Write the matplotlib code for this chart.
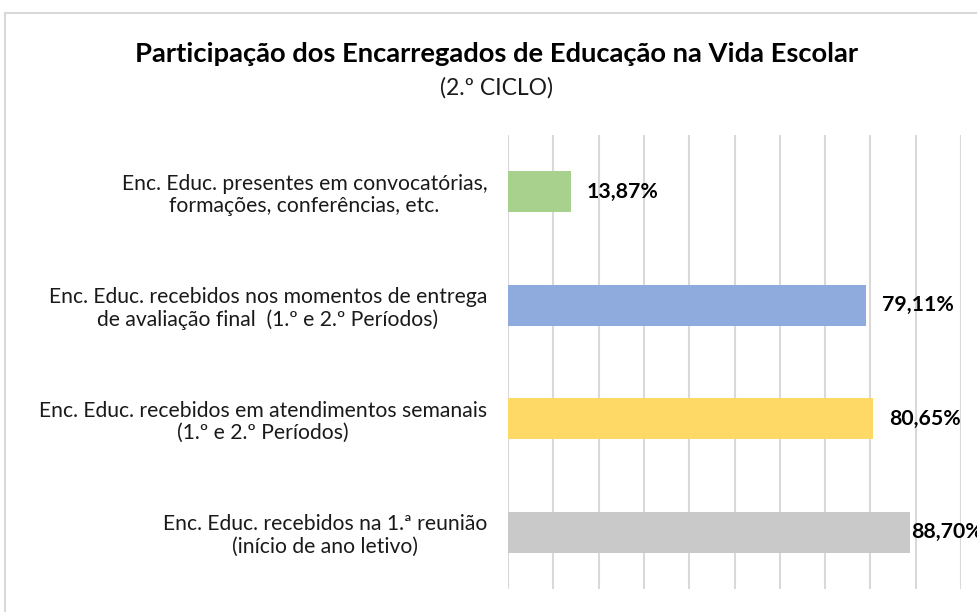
import matplotlib

matplotlib.use("Agg")
import matplotlib.pyplot as plt
from matplotlib.lines import Line2D

plt.rcParams["font.family"] = ["Lato", "DejaVu Sans"]

CATEGORIAS = [
    "Enc. Educ. presentes em convocatórias,\nformações, conferências, etc.",
    "Enc. Educ. recebidos nos momentos de entrega\nde avaliação final  (1.º e 2.º Períodos)",
    "Enc. Educ. recebidos em atendimentos semanais\n(1.º e 2.º Períodos)",
    "Enc. Educ. recebidos na 1.ª reunião\n(início de ano letivo)",
]
VALORES = [13.87, 79.11, 80.65, 88.70]
ROTULOS = ["13,87%", "79,11%", "80,65%", "88,70%"]
CORES = ["#A9D18E", "#8FAADC", "#FFD966", "#C9C9C9"]
# deslocamento do rótulo em px (o último fica colado à barra, como no Excel)
DESLOC = [16, 16, 16, 1]

W, H = 977, 612
fig = plt.figure(figsize=(W / 100, H / 100), dpi=100)
ax = fig.add_axes([508 / W, 1 - 589 / H, (961 - 508) / W, (589 - 135) / H])

y = list(range(len(VALORES)))
ax.barh(y, VALORES, height=0.36, color=CORES, zorder=2)
ax.set_xlim(0, 100)
ax.set_ylim(len(VALORES) - 0.5, -0.5)
ax.set_xticks(range(0, 101, 10))
ax.tick_params(axis="x", length=0, labelbottom=False)
ax.grid(axis="x", color="#D9D9D9", linewidth=1.5, zorder=0)
for s in ax.spines.values():
    s.set_visible(False)

ax.set_yticks(y)
ax.set_yticklabels(CATEGORIAS, fontsize=15.2, color="#1a1a1a",
                   multialignment="center", linespacing=1.15)
ax.tick_params(axis="y", length=0, pad=15)

for i, (v, r) in enumerate(zip(VALORES, ROTULOS)):
    ax.annotate(r, (v, i), xytext=(DESLOC[i] * 0.72, 0), textcoords="offset points",
                va="center", ha="left", fontsize=15.3, fontweight="bold",
                color="#000000", annotation_clip=False, clip_on=False)

fig.text(497 / W, 1 - 54 / H, "Participação dos Encarregados de Educação na Vida Escolar",
         ha="center", va="center", fontsize=19.7, fontweight="bold", color="#000000")
fig.text(497 / W, 1 - 88 / H, "(2.º CICLO)", ha="center", va="center",
         fontsize=16.5, color="#1a1a1a")

# moldura do gráfico (cortada à direita e em baixo)
fig.add_artist(Line2D([5 / W, 5 / W], [0, 1 - 13 / H], transform=fig.transFigure,
                      color="#D9D9D9", linewidth=1.5))
fig.add_artist(Line2D([5 / W, 1], [1 - 13 / H, 1 - 13 / H], transform=fig.transFigure,
                      color="#D9D9D9", linewidth=1.5))

fig.savefig("out.png", dpi=100)
